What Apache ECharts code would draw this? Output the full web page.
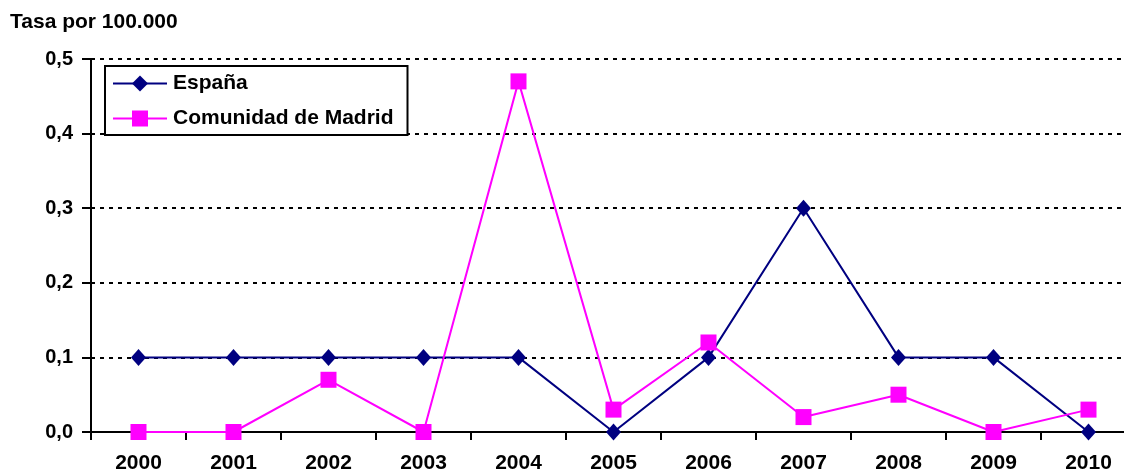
<!DOCTYPE html>
<html>
<head>
<meta charset="utf-8">
<script src="https://cdn.jsdelivr.net/npm/echarts@6/dist/echarts.min.js"></script>
<style>
  html, body { margin: 0; padding: 0; background: #fff; overflow: hidden; }
  /* the plot runs slightly past the right edge of the window */
  #chart { width: 1136px; height: 475px; }
</style>
</head>
<body>
<div id="chart"></div>
<script>
// Years on the category axis
const years = ['2000', '2001', '2002', '2003', '2004', '2005', '2006', '2007', '2008', '2009', '2010'];
// Rate per 100,000 inhabitants
const espana = [0.1, 0.1, 0.1, 0.1, 0.1, 0.0, 0.1, 0.3, 0.1, 0.1, 0.0];
const madrid = [0.0, 0.0, 0.07, 0.0, 0.47, 0.03, 0.12, 0.02, 0.05, 0.0, 0.03];

const FONT = 'Liberation Sans, Arial, sans-serif';

const chart = echarts.init(document.getElementById('chart'), null, { renderer: 'canvas' });
chart.setOption({
  animation: false,
  backgroundColor: '#ffffff',
  title: {
    text: 'Tasa por 100.000',
    left: 5,
    top: 7,
    textStyle: { fontFamily: FONT, fontWeight: 'bold', fontSize: 21, color: '#000' }
  },
  legend: {
    orient: 'vertical',
    left: 105,
    top: 66,
    padding: [7, 14, 6, 7],
    itemGap: 14,
    itemWidth: 54,
    itemHeight: 20,
    borderColor: '#000',
    borderWidth: 2,
    backgroundColor: '#fff',
    textStyle: { fontFamily: FONT, fontWeight: 'bold', fontSize: 21, color: '#000', padding: [0, 0, 0, 1] },
    data: ['España', 'Comunidad de Madrid']
  },
  grid: { left: 91, right: 0, top: 59, bottom: 43, containLabel: false },
  xAxis: {
    type: 'category',
    data: years,
    boundaryGap: true,
    axisLine: { lineStyle: { color: '#000', width: 2 } },
    axisTick: { show: true, interval: 0, length: 8, lineStyle: { color: '#000', width: 2 } },
    axisLabel: { interval: 0, margin: 21, fontFamily: FONT, fontWeight: 'bold', fontSize: 21, color: '#000' },
    splitLine: { show: false }
  },
  yAxis: {
    type: 'value',
    min: 0,
    max: 0.5,
    interval: 0.1,
    axisLine: { show: true, lineStyle: { color: '#000', width: 2 } },
    axisTick: { show: true, length: 9, lineStyle: { color: '#000', width: 2 } },
    axisLabel: {
      margin: 18,
      fontFamily: FONT, fontWeight: 'bold', fontSize: 20, color: '#000',
      formatter: v => v.toFixed(1).replace('.', ',')
    },
    splitLine: { show: true, lineStyle: { color: '#000', width: 2, type: [4, 5] } }
  },
  series: [
    {
      name: 'España',
      type: 'line',
      data: espana,
      symbol: 'diamond',
      symbolSize: [15, 17],
      itemStyle: { color: '#000080' },
      lineStyle: { color: '#000080', width: 2 },
      z: 3
    },
    {
      name: 'Comunidad de Madrid',
      type: 'line',
      data: madrid,
      symbol: 'rect',
      symbolSize: 16,
      itemStyle: { color: '#ff00ff' },
      lineStyle: { color: '#ff00ff', width: 2 },
      z: 4
    }
  ]
});
</script>
</body>
</html>
